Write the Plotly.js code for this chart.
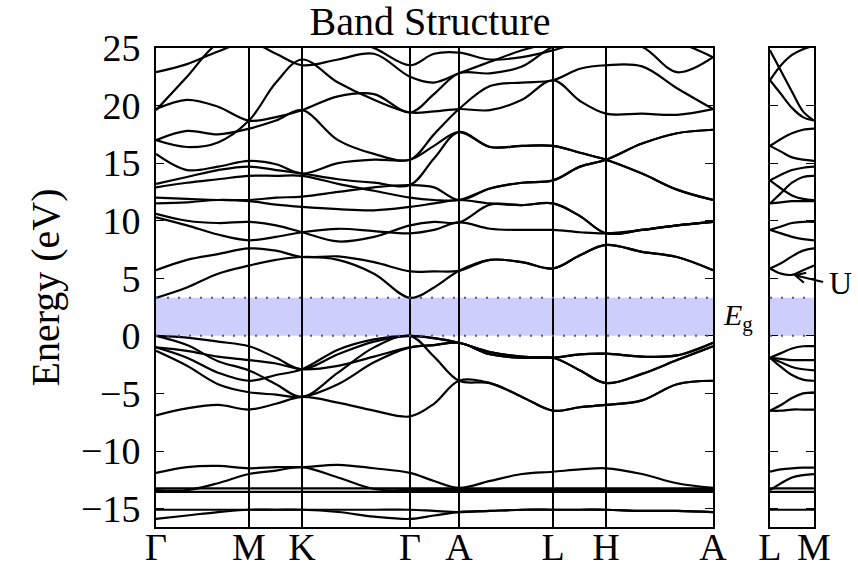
<!DOCTYPE html>
<html><head><meta charset="utf-8">
<script src="https://cdn.plot.ly/plotly-3.0.1.min.js"></script>
<style>html,body{margin:0;padding:0;background:#fff}</style>
</head><body><div id="chart" style="width:858px;height:570px"></div>
<script>
// k-path (left panel) and tick labels
const kLabels = ['Γ','M','K','Γ','A','L','H','A'];
const kTicks  = [0, 0.93, 1.46, 2.54, 3.03, 3.97, 4.50, 5.57];
const kGrid   = [0,0.31,0.62,0.93,1.2,1.46,1.82,2.18,2.54,2.78,3.03,3.34,3.66,3.97,4.24,4.50,4.86,5.21,5.57];
// right panel
const kLabelsR = ['L','M'];
const kTicksR  = [0, 0.44];
const kGridR   = [0, 0.11, 0.22, 0.33, 0.44];
const gapEdges = [0, 3.3];
const energyTicks = [-15,-10,-5,0,5,10,15,20,25];

// valence bands
const v1 = [0,-0.15,-0.5,-0.9,-1.9,-2.9,-1.6,-0.5,0,-0.2,-0.6,-1.4,-1.8,-1.9,-1.6,-1.55,-1.8,-1.7,-0.6];
const v2 = [-1.0,-1.3,-1.8,-2.1,-2.4,-2.9,-2.6,-1.8,-1.0,-0.8,-0.6,-1.6,-1.9,-1.9,-3.0,-4.1,-3.3,-2.1,-0.9];
const v3 = [0,-0.8,-2.2,-3.0,-4.2,-5.3,-3.2,-1.0,0,-1.8,-3.9,-4.1,-5.3,-6.5,-6.2,-6.0,-5.6,-4.2,-3.9];
const v4 = [-6.9,-6.3,-6.0,-6.4,-5.9,-5.3,-5.8,-6.5,-7.0,-5.9,-3.9,-4.1,-5.3,-6.5,-6.2,-6.0,-5.6,-4.2,-3.9];
const v5 = [-1.0,-1.9,-3.2,-3.9,-3.4,-2.9,-1.2,-0.3,0,-0.2,-0.6,-1.4,-1.8,-1.9,-1.6,-1.55,-1.8,-1.7,-0.6];
const v6 = [-1.3,-2.6,-4.2,-4.9,-5.1,-5.3,-4.2,-2.3,-1.0,-0.8,-0.6,-1.6,-1.9,-1.9,-3.0,-4.1,-3.3,-2.1,-0.9];
// semicore
const s1 = [-11.9,-11.4,-11.3,-11.5,-11.4,-11.4,-11.2,-11.5,-11.9,-12.6,-13.2,-12.6,-12.0,-11.8,-11.6,-11.5,-12.0,-12.8,-13.2];
const s2 = [-13.4,-13.4,-12.8,-12.0,-11.7,-11.4,-12.3,-13.3,-13.4,-13.4,-13.4,-13.4,-13.4,-13.4,-13.4,-13.4,-13.4,-13.4,-13.4];
const s3 = [-13.25,-13.25,-13.25,-13.25,-13.25,-13.25,-13.25,-13.25,-13.25,-13.25,-13.25,-13.25,-13.25,-13.25,-13.25,-13.25,-13.25,-13.25,-13.25];
const s4 = [-13.55,-13.55,-13.55,-13.55,-13.55,-13.55,-13.55,-13.55,-13.55,-13.55,-13.55,-13.55,-13.55,-13.55,-13.55,-13.55,-13.55,-13.55,-13.55];
const s5 = [-15.1,-15.1,-15.1,-15.1,-15.1,-15.1,-15.1,-15.1,-15.1,-15.2,-15.3,-15.2,-15.1,-15.1,-15.1,-15.1,-15.2,-15.2,-15.3];
const s6 = [-15.9,-15.6,-15.3,-15.1,-15.1,-15.1,-15.3,-15.7,-15.9,-15.6,-15.3,-15.2,-15.1,-15.1,-15.1,-15.1,-15.2,-15.2,-15.3];
// conduction bands
const c1 = [3.3,4.2,5.4,6.1,6.6,6.85,6.6,5.4,3.3,4.2,5.65,6.6,6.4,5.85,7.0,7.9,7.3,6.85,5.7];
const c2 = [5.7,6.6,7.1,7.6,7.4,6.85,6.9,6.4,5.6,5.6,5.65,6.6,6.4,5.85,7.0,7.9,7.3,6.85,5.7];
const c3 = [10.3,9.6,8.8,8.3,8.6,9.0,9.3,9.1,8.9,9.2,9.85,9.3,9.2,9.2,9.0,8.9,9.2,9.6,9.9];
const c4 = [10.6,10.0,9.8,9.9,9.6,9.0,8.2,8.6,9.6,9.9,9.85,11.4,11.35,11.5,10.4,8.9,9.2,9.6,9.9];
const c5 = [11.5,11.6,11.8,11.7,11.4,11.2,11.0,10.9,11.2,11.5,11.8,11.5,11.35,11.5,10.4,8.9,9.2,9.6,9.9];
const c6 = [12.0,11.9,11.8,11.8,12.0,12.1,12.5,12.9,13.1,12.9,11.8,12.8,13.3,13.5,14.7,15.3,16.7,17.6,17.9];
const c7 = [12.9,13.3,13.6,13.9,13.9,13.9,13.2,12.6,12.0,11.8,11.8,12.8,13.3,13.5,14.7,15.3,16.7,17.6,17.9];
const c8 = [13.2,13.8,14.4,14.7,14.4,14.1,13.6,13.3,13.1,15.4,17.7,16.4,16.5,16.5,15.9,15.3,14.1,12.7,11.8];
const c9 = [15.8,14.4,14.7,15.2,14.9,14.1,15.0,15.3,15.3,16.5,17.7,16.4,16.5,16.5,15.9,15.3,14.1,12.7,11.8];
const c10 = [17.0,16.4,16.8,18.7,22.0,24.0,22.0,20.5,19.4,19.5,19.7,19.6,20.5,22.2,20.4,19.3,19.3,19.2,19.7];
const c11 = [17.0,17.8,17.5,18.0,18.7,19.6,17.0,15.8,15.3,17.5,19.7,21.7,22.0,22.2,23.2,23.5,23.4,21.5,19.7];
const c12 = [19.7,20.5,19.9,18.7,19.0,19.6,20.8,21.0,19.4,21.0,22.8,22.8,23.4,25.1,25.5,25.5,25.1,22.9,24.2];
const c13 = [19.6,22.5,25.4,26,26,26,26,25,23.5,24.5,24.6,24.0,24.2,24.8,25.5,26,26,26,26];
const c14 = [22.9,23.6,24.7,25.5,24.5,23.5,24.0,24.5,22.5,22.0,22.8,23.8,24.8,25.5,26,26,26,25.5,24.2];

const leftBands = [v1,v2,v3,v4,v5,v6,s1,s2,s3,s4,s5,s6,c1,c2,c3,c4,c5,c6,c7,c8,c9,c10,c11,c12,c13,c14];

// right panel bands (L -> M)
const r1 = [-1.9,-1.5,-1.1,-0.9,-0.9];
const r2 = [-1.9,-2.0,-2.1,-2.1,-2.1];
const r3 = [-1.9,-2.3,-2.7,-2.9,-3.0];
const r4 = [-1.9,-2.7,-3.4,-3.8,-3.9];
const r5 = [-6.5,-6.0,-5.4,-5.0,-4.9];
const r6 = [-6.5,-6.5,-6.4,-6.4,-6.4];
const r7 = [5.85,5.4,5.3,5.7,6.1];
const r8 = [5.85,6.3,6.9,7.4,7.6];
const r9 = [9.2,8.9,8.6,8.4,8.3];
const r10 = [9.2,9.5,9.8,9.9,9.9];
const r11 = [11.5,11.6,11.7,11.7,11.7];
const r12 = [11.5,12.4,13.3,13.8,13.9];
const r13 = [13.5,12.8,12.2,11.9,11.8];
const r14 = [13.5,14.0,14.4,14.6,14.7];
const r15 = [16.5,16.0,15.5,15.3,15.2];
const r16 = [16.5,17.1,17.6,17.9,18.0];
const r17 = [22.2,21.0,19.8,19.0,18.7];
const r18 = [24.8,23.0,21.2,19.5,18.7];
const r19 = [22.2,23.5,24.4,24.9,25.2];
const r20 = [-11.8,-11.6,-11.5,-11.45,-11.45];
const r21 = [-13.4,-12.8,-12.3,-12.1,-12.0];
const r22 = [-13.25,-13.25,-13.25,-13.25,-13.25];
const r23 = [-13.55,-13.55,-13.55,-13.55,-13.55];
const r24 = [-15.1,-15.1,-15.1,-15.1,-15.1];
const rightBands = [r1,r2,r3,r4,r5,r6,r7,r8,r9,r10,r11,r12,r13,r14,r15,r16,r17,r18,r19,r20,r21,r22,r23,r24];

const lineStyle = {color:'black', width:2.2, shape:'spline', smoothing:1};
const traces = [];
leftBands.forEach(b => traces.push({x:kGrid, y:b, mode:'lines', line:lineStyle, xaxis:'x', yaxis:'y', hoverinfo:'skip', showlegend:false}));
rightBands.forEach(b => traces.push({x:kGridR, y:b, mode:'lines', line:lineStyle, xaxis:'x2', yaxis:'y2', hoverinfo:'skip', showlegend:false}));

const serif = 'Liberation Serif, Times New Roman, serif';
const tickFont = {family:serif, size:38, color:'black'};
const kEnd = kTicks[kTicks.length-1];
const kEndR = kTicksR[kTicksR.length-1];

function gapShapes(xref, xmax){
  return [
    {type:'rect', xref:xref, yref:'y', x0:0, x1:xmax, y0:gapEdges[0], y1:gapEdges[1], fillcolor:'rgb(206,206,252)', line:{width:0}, layer:'below'},
    {type:'line', xref:xref, yref:'y', x0:0, x1:xmax, y0:gapEdges[0], y1:gapEdges[0], line:{color:'rgb(80,80,170)', width:2, dash:'2px,9px'}, layer:'above'},
    {type:'line', xref:xref, yref:'y', x0:0, x1:xmax, y0:gapEdges[1], y1:gapEdges[1], line:{color:'rgb(80,80,170)', width:2, dash:'2px,9px'}, layer:'above'}
  ];
}

const yCommon = {range:[-16.6,25], tickvals:energyTicks, ticks:'inside', ticklen:8, tickcolor:'black', tickwidth:1,
  showline:true, linecolor:'black', linewidth:2, mirror:'ticks', showgrid:false, zeroline:false};

const layout = {
  width:858, height:570,
  margin:{l:156, r:44, t:48, b:43},
  paper_bgcolor:'white', plot_bgcolor:'white',
  title:{text:'Band Structure', font:{family:serif, size:40, color:'black'}, x:430/858, xref:'container', xanchor:'center', y:1-21/570, yref:'container', yanchor:'middle'},
  xaxis:{domain:[0,0.8465], range:[0,kEnd], tickvals:kTicks, ticktext:kLabels, ticks:'', showgrid:true, gridcolor:'black', gridwidth:2,
    zeroline:false, showline:true, mirror:true, linecolor:'black', linewidth:2, tickfont:tickFont, ticklabelstandoff:-15},
  xaxis2:{domain:[0.9331,1], range:[0,kEndR], tickvals:kTicksR, ticktext:kLabelsR, ticks:'', showgrid:false,
    zeroline:false, showline:true, mirror:true, linecolor:'black', linewidth:2, tickfont:tickFont, anchor:'y2', ticklabelstandoff:-15},
  yaxis:Object.assign({}, yCommon, {anchor:'x', tickfont:tickFont, ticklabelstandoff:6}),
  yaxis2:Object.assign({}, yCommon, {anchor:'x2', matches:'y', showticklabels:false}),
  shapes:[].concat(gapShapes('x', kEnd), gapShapes('x2', kEndR)),
  annotations:[
    {text:'Energy (eV)', xref:'paper', yref:'paper', x:(45-156)/658, y:0.5, xanchor:'center', yanchor:'middle', textangle:-90, showarrow:false, font:{family:serif, size:40, color:'black'}},
    {text:'<i>E</i><sub>g</sub>', xref:'paper', yref:'y', x:(721-156)/658, y:(gapEdges[0]+gapEdges[1])/2, xanchor:'left', yanchor:'middle', showarrow:false, font:{family:serif, size:30, color:'black'}},
    {text:'U', xref:'x2', yref:'y2', x:0.23, y:5.3, ax:34, ay:8, showarrow:true, arrowhead:5, arrowsize:1, arrowwidth:2, arrowcolor:'black', standoff:0, startstandoff:4, xanchor:'left', font:{family:serif, size:32, color:'black'}}
  ]
};

Plotly.newPlot('chart', traces, layout, {displayModeBar:false, staticPlot:true});
</script>
</body></html>
